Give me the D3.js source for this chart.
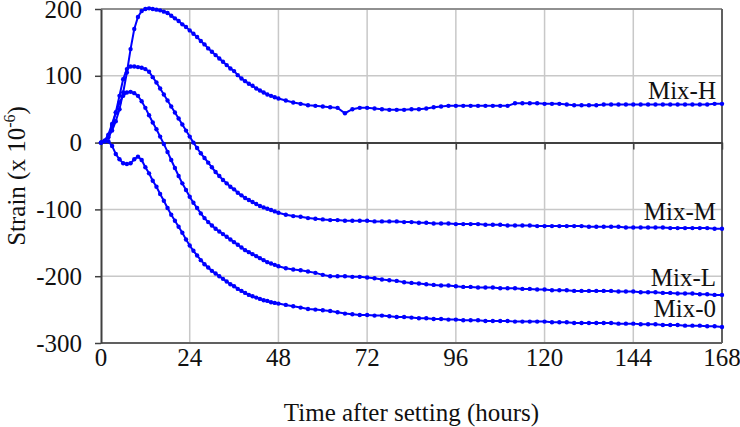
<!DOCTYPE html>
<html>
<head>
<meta charset="utf-8">
<script src="https://cdn.jsdelivr.net/npm/d3@7"></script>
<style>
  body { margin: 0; background: #fff; }
  svg { display: block; font-family: "Liberation Serif", "Times New Roman", serif; }
</style>
</head>
<body>
<div id="chart"></div>
<script>
// time after setting (hours): hourly to 48 h, every 2 h afterwards
const hours = d3.range(0, 49, 1).concat(d3.range(50, 169, 2));

const mixH = [0, 2, 8, 18, 32, 50, 75, 105, 140, 170, 188, 197, 200, 201, 200, 199, 198, 196, 194, 190,
  186, 182, 177, 173, 168, 163, 158, 152, 147, 141, 136, 131, 126, 121, 116, 111, 107, 101, 96, 92,
  88, 85, 81, 78, 75, 72, 70, 68, 66,
  63, 60, 58, 56, 55, 54, 53, 52, 44, 50, 52, 52, 51, 50, 49, 49, 49, 50, 50, 51,
  53, 54, 55, 55, 55, 55, 55, 55, 55, 55, 55, 59, 59, 59, 59, 58, 58, 58, 57, 56,
  56, 56, 56, 57, 57, 57, 57, 57, 57, 57, 57, 57, 57, 57, 57, 57, 57, 57, 58, 58];

const mixM = [0, 2, 10, 25, 45, 70, 95, 110, 114, 114, 113, 112, 110, 106, 98, 90, 81, 72, 63, 54,
  45, 36, 27, 18, 9, 0, -8, -16, -23, -30, -37, -44, -50, -56, -61, -66, -70, -75, -79, -83,
  -86, -89, -92, -95, -97, -99, -101, -103, -105,
  -108, -110, -111, -113, -114, -115, -116, -116, -117, -117, -117, -117, -118, -118, -118, -118, -119, -119, -120, -120,
  -121, -121, -121, -122, -122, -122, -122, -123, -123, -123, -124, -124, -124, -124, -125, -125, -125, -125, -125, -125,
  -125, -126, -126, -126, -126, -126, -127, -127, -127, -127, -127, -127, -128, -128, -128, -128, -128, -128, -129, -129];

const mixL = [0, 3, 12, 28, 45, 60, 70, 75, 76, 74, 70, 62, 52, 41, 30, 20, 9, -2, -14, -26,
  -38, -50, -61, -71, -81, -90, -98, -106, -113, -119, -124, -129, -133, -137, -141, -145, -149, -153, -157, -161,
  -164, -167, -170, -173, -176, -179, -181, -183, -185,
  -188, -190, -191, -193, -195, -198, -200, -200, -200, -201, -201, -202, -203, -205, -206, -207, -209, -210, -211, -212,
  -213, -214, -214, -215, -216, -216, -217, -217, -217, -218, -218, -218, -219, -219, -220, -220, -221, -221, -221, -222,
  -222, -222, -222, -222, -222, -223, -223, -223, -224, -224, -224, -225, -225, -226, -226, -226, -227, -227, -228, -228];

const mix0 = [0, 3, 2, -5, -17, -25, -31, -32, -31, -25, -21, -26, -37, -46, -57, -66, -77, -87, -98, -108,
  -117, -126, -135, -145, -154, -162, -169, -176, -182, -187, -192, -196, -200, -204, -208, -212, -215, -219, -222, -225,
  -228, -230, -232, -234, -236, -237, -239, -240, -241,
  -243, -245, -247, -249, -250, -251, -252, -254, -256, -257, -258, -258, -259, -259, -260, -261, -261, -262, -263, -263,
  -264, -264, -265, -265, -266, -266, -266, -267, -267, -267, -267, -268, -268, -268, -268, -268, -269, -269, -269, -270,
  -270, -270, -270, -270, -270, -271, -271, -271, -272, -272, -272, -273, -273, -273, -274, -274, -274, -275, -275, -276];

const seriesNames = ['Mix-H', 'Mix-M', 'Mix-L', 'Mix-0'];
const seriesValues = [mixH, mixM, mixL, mix0];
const labelValues = [65, -116, -215, -261];
const xTicks = [0, 24, 48, 72, 96, 120, 144, 168];
const yTicks = [200, 100, 0, -100, -200, -300];

const W = 740, H = 427;
const plot = {left: 101, right: 722, top: 9, bottom: 343};
const fontSize = '25px';

const svg = d3.select('#chart').append('svg')
    .attr('width', W)
    .attr('height', H);

const x = d3.scaleLinear().domain([0, 168]).range([plot.left, plot.right]);
const y = d3.scaleLinear().domain([-300, 200]).range([plot.bottom, plot.top]);

// gridlines
svg.append('g')
    .selectAll('line')
    .data(xTicks.slice(1, -1))
    .enter().append('line')
    .attr('x1', d => x(d)).attr('x2', d => x(d))
    .attr('y1', plot.top).attr('y2', plot.bottom)
    .attr('stroke', '#c8c8c8').attr('stroke-width', 1.5);

svg.append('g')
    .selectAll('line')
    .data(yTicks.filter(d => d !== 0 && d !== 200 && d !== -300))
    .enter().append('line')
    .attr('x1', plot.left).attr('x2', plot.right)
    .attr('y1', d => y(d)).attr('y2', d => y(d))
    .attr('stroke', '#c8c8c8').attr('stroke-width', 1.5);

// frame
svg.append('line')
    .attr('x1', plot.left).attr('x2', plot.right)
    .attr('y1', plot.top).attr('y2', plot.top)
    .attr('stroke', '#909090').attr('stroke-width', 2);
svg.append('line')
    .attr('x1', plot.right).attr('x2', plot.right)
    .attr('y1', plot.top).attr('y2', plot.bottom)
    .attr('stroke', '#606060').attr('stroke-width', 2);
svg.append('line')
    .attr('x1', plot.left).attr('x2', plot.right)
    .attr('y1', plot.bottom).attr('y2', plot.bottom)
    .attr('stroke', '#606060').attr('stroke-width', 2);

// x axis along zero line
const xAxis = svg.append('g')
    .attr('transform', `translate(0,${y(0)})`)
    .call(d3.axisBottom(x).tickValues(xTicks).tickSize(7).tickSizeOuter(0).tickFormat(''));
xAxis.select('.domain').attr('stroke', '#404040').attr('stroke-width', 2);
xAxis.selectAll('.tick line').attr('stroke', '#404040').attr('stroke-width', 1.5);

// y axis
const yAxis = svg.append('g')
    .attr('transform', `translate(${plot.left},0)`)
    .call(d3.axisLeft(y).tickValues(yTicks).tickSize(6).tickSizeOuter(0).tickPadding(13)
        .tickFormat(d => String(d)));
yAxis.select('.domain').attr('stroke', '#404040').attr('stroke-width', 2);
yAxis.selectAll('.tick line').attr('stroke', '#404040').attr('stroke-width', 1.5);
yAxis.selectAll('.tick text')
    .style('font-family', '"Liberation Serif", serif')
    .style('font-size', fontSize)
    .attr('fill', '#111');

// x tick labels at bottom
svg.append('g')
    .selectAll('text')
    .data(xTicks)
    .enter().append('text')
    .attr('x', d => x(d))
    .attr('y', 366)
    .attr('text-anchor', 'middle')
    .style('font-size', fontSize)
    .attr('fill', '#111')
    .text(d => d);

// series
const line = d3.line()
    .x((d, i) => x(hours[i]))
    .y(d => y(d));

seriesValues.forEach(vals => {
    svg.append('path')
        .datum(vals)
        .attr('d', line)
        .attr('fill', 'none')
        .attr('stroke', '#0000ff')
        .attr('stroke-width', 2);
    svg.append('g')
        .selectAll('circle')
        .data(vals)
        .enter().append('circle')
        .attr('cx', (d, i) => x(hours[i]))
        .attr('cy', d => y(d))
        .attr('r', 2.2)
        .attr('fill', '#0000ff');
});

// series labels
svg.append('g')
    .selectAll('text')
    .data(seriesNames)
    .enter().append('text')
    .attr('x', 716)
    .attr('y', (d, i) => y(labelValues[i]))
    .attr('text-anchor', 'end')
    .style('font-size', fontSize)
    .attr('fill', '#111')
    .text(d => d);

// axis titles
svg.append('text')
    .attr('x', x(84))
    .attr('y', 421)
    .attr('text-anchor', 'middle')
    .style('font-size', fontSize)
    .attr('fill', '#111')
    .text('Time after setting (hours)');

const yTitle = svg.append('text')
    .attr('transform', `translate(25,${(plot.top + plot.bottom) / 2}) rotate(-90)`)
    .attr('text-anchor', 'middle')
    .style('font-size', fontSize)
    .attr('fill', '#111');
yTitle.append('tspan').text('Strain (x 10');
yTitle.append('tspan').attr('dy', -10).style('font-size', '16px').text('-6');
yTitle.append('tspan').attr('dy', 10).text(')');
</script>
</body>
</html>
